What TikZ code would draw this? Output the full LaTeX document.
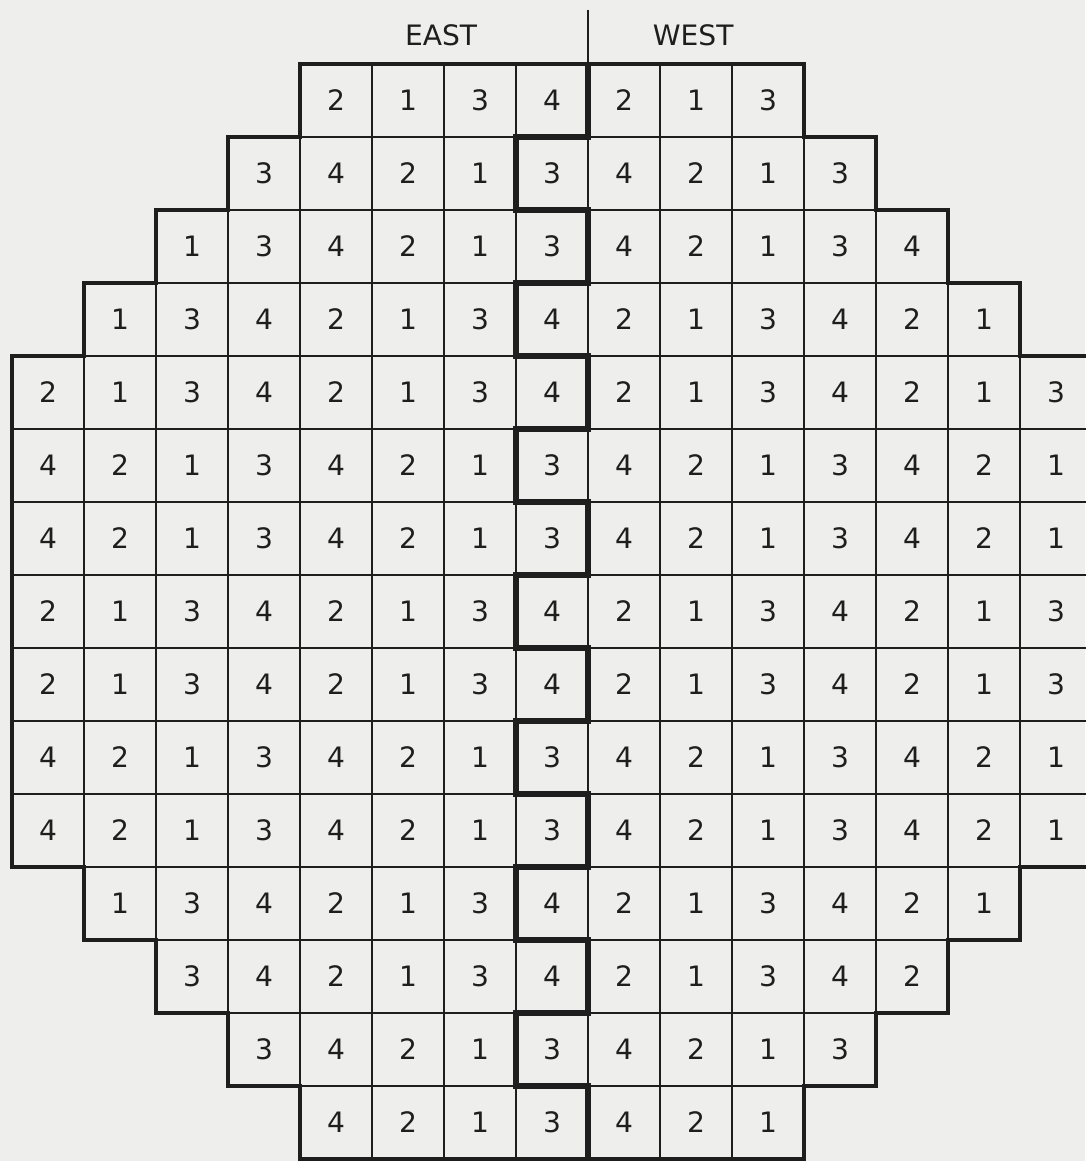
\documentclass[tikz,border=0pt]{standalone}
\usepackage{fontspec}
\setmainfont{DejaVu Sans}
\usepackage{xcolor}
\definecolor{paper}{HTML}{EEEEEC}
\definecolor{ink}{HTML}{1E1E1E}

\begin{document}
\begin{tikzpicture}[x=1.44cm, y=-1.46cm, font=\fontsize{16}{16}\selectfont,
    cell/.style={draw=ink, line width=1.4pt, minimum width=1.44cm, minimum height=1.46cm, inner sep=0pt, text=ink},
    rim/.style={ink, line width=2.4pt, line join=miter},
    split/.style={ink, line width=3.8pt, line join=miter}]
  \fill[paper] (-0.1667,-0.877) rectangle (14.903,15.027);
  \useasboundingbox (-0.1667,-0.877) rectangle (14.903,15.027);
  % one list per row of the core, first cell at max(0,|r-7|-3)
  \foreach \vals [count=\r from 0] in {{2,1,3,4,2,1,3}, {3,4,2,1,3,4,2,1,3},
      {1,3,4,2,1,3,4,2,1,3,4}, {1,3,4,2,1,3,4,2,1,3,4,2,1},
      {2,1,3,4,2,1,3,4,2,1,3,4,2,1,3}, {4,2,1,3,4,2,1,3,4,2,1,3,4,2,1},
      {4,2,1,3,4,2,1,3,4,2,1,3,4,2,1}, {2,1,3,4,2,1,3,4,2,1,3,4,2,1,3},
      {2,1,3,4,2,1,3,4,2,1,3,4,2,1,3}, {4,2,1,3,4,2,1,3,4,2,1,3,4,2,1},
      {4,2,1,3,4,2,1,3,4,2,1,3,4,2,1}, {1,3,4,2,1,3,4,2,1,3,4,2,1},
      {3,4,2,1,3,4,2,1,3,4,2}, {3,4,2,1,3,4,2,1,3}, {4,2,1,3,4,2,1}} {
    \pgfmathtruncatemacro\c{max(0,abs(\r-7)-3)}
    \foreach \v [count=\k from \c] in \vals
      \node[cell] (c\r-\k) at (\k+0.5,\r+0.5) {\v};
  }
  \draw[rim] (4,0) -| (11,1) -| (12,2) -| (13,3) -| (14,4) -| (15,11) -| (14,12)
    -| (13,13) -| (12,14) -| (11,15) -| (4,14) -| (3,13) -| (2,12) -| (1,11)
    -| (0,4) -| (1,3) -| (2,2) -| (3,1) -| (4,0) -- cycle;
  \node[text=ink] (east) at (5.96,-0.40) {EAST};
  \node[text=ink] (west) at (9.46,-0.40) {WEST};
  \coordinate (top) at (8,-0.74);
  \draw[ink, line width=1.6pt] (top) -- (8,0);
  \draw[split] (8,0) -- (8,1) \foreach \r in {1,...,14} { -- ({8-mod(\r,2)},\r) -- ({8-mod(\r,2)},\r+1) };
\end{tikzpicture}
\end{document}
